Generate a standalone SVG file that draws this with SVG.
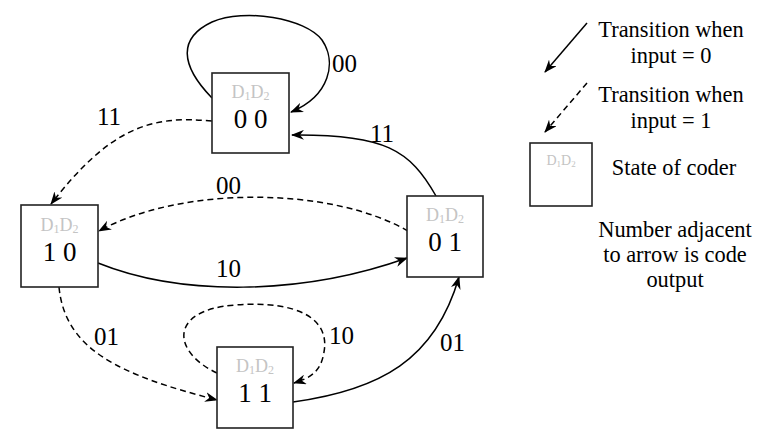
<svg xmlns="http://www.w3.org/2000/svg" width="776" height="436" viewBox="0 0 776 436">
<style>
text{font-family:"Liberation Serif","Times New Roman",Times,"DejaVu Serif",serif}
.box{fill:#fff;stroke:#222;stroke-width:1.6}
.d{font-size:18px;fill:#c4c4c4}
.ds{font-size:12px}
.num{font-size:27px;fill:#000}
.lab{font-size:25px;fill:#000}
.leg{font-size:22.4px;fill:#000;text-anchor:middle}
.e{fill:none;stroke:#000;stroke-width:1.5;marker-end:url(#ah)}
.dash{stroke-dasharray:6 4}
</style>
<defs>
<marker id="ah" viewBox="0 0 13 10" refX="12" refY="5" markerWidth="13" markerHeight="10" markerUnits="userSpaceOnUse" orient="auto">
<path d="M0,0 L13,5 L0,10 L4,5 Z" fill="#000"/>
</marker>
</defs>
<g id="connectors">
<path class="e" d="M212,98 C180,65 178,38 212,22 C245,8 305,18 322,40 C337,62 330,96 291,112"/>
<path class="e dash" d="M212,121 C150,115 110,128 51,204"/>
<path class="e" d="M436,196 C410,150 385,134 292,135"/>
<path class="e dash" d="M408,231 C330,186 180,186 99,231"/>
<path class="e" d="M98,263 C180,296 300,296 407,258"/>
<path class="e dash" d="M59,287 C65,350 120,375 217,400"/>
<path class="e dash" d="M217,373 C172,352 168,310 235,305 C300,300 330,320 324,352 C321,372 310,378 294,383"/>
<path class="e" d="M293,402 C380,390 435,360 459,277"/>
<path class="e" d="M587,23 L545,72"/>
<path class="e dash" d="M587,83 L545,132"/>
</g>
<g id="labels">
<text class="lab" x="332" y="72">00</text>
<text class="lab" x="97" y="125">11</text>
<text class="lab" x="370" y="142">11</text>
<text class="lab" x="216" y="194">00</text>
<text class="lab" x="216" y="277">10</text>
<text class="lab" x="94" y="345">01</text>
<text class="lab" x="329" y="344">10</text>
<text class="lab" x="440" y="351">01</text>
</g>
<g id="s00">
<rect class="box" x="212" y="73" width="77" height="80"/>
<text class="d" x="250.5" y="98" text-anchor="middle">D<tspan class="ds" dy="2">1</tspan><tspan dy="-2">D</tspan><tspan class="ds" dy="2">2</tspan></text>
<text class="num" x="250.5" y="128" text-anchor="middle">0 0</text>
</g>
<g id="s10">
<rect class="box" x="21" y="205" width="77" height="82"/>
<text class="d" x="59.5" y="231" text-anchor="middle">D<tspan class="ds" dy="2">1</tspan><tspan dy="-2">D</tspan><tspan class="ds" dy="2">2</tspan></text>
<text class="num" x="59.5" y="261" text-anchor="middle">1 0</text>
</g>
<g id="s01">
<rect class="box" x="407" y="196" width="76" height="81"/>
<text class="d" x="445" y="221" text-anchor="middle">D<tspan class="ds" dy="2">1</tspan><tspan dy="-2">D</tspan><tspan class="ds" dy="2">2</tspan></text>
<text class="num" x="445" y="251" text-anchor="middle">0 1</text>
</g>
<g id="s11">
<rect class="box" x="217" y="347" width="76" height="81"/>
<text class="d" x="255" y="372" text-anchor="middle">D<tspan class="ds" dy="2">1</tspan><tspan dy="-2">D</tspan><tspan class="ds" dy="2">2</tspan></text>
<text class="num" x="255" y="402" text-anchor="middle">1 1</text>
</g>
<g id="legend">
<text class="leg" x="671" y="37">Transition when</text>
<text class="leg" x="671" y="63">input = 0</text>
<text class="leg" x="671" y="102">Transition when</text>
<text class="leg" x="671" y="128">input = 1</text>
<rect class="box" x="530" y="143" width="62" height="63"/>
<text class="d" x="561" y="165" text-anchor="middle" style="font-size:14px">D<tspan style="font-size:9px" dy="2">1</tspan><tspan dy="-2">D</tspan><tspan style="font-size:9px" dy="2">2</tspan></text>
<text class="leg" x="674" y="175">State of coder</text>
<text class="leg" x="675" y="237">Number adjacent</text>
<text class="leg" x="675" y="262">to arrow is code</text>
<text class="leg" x="675" y="287">output</text>
</g>
</svg>
